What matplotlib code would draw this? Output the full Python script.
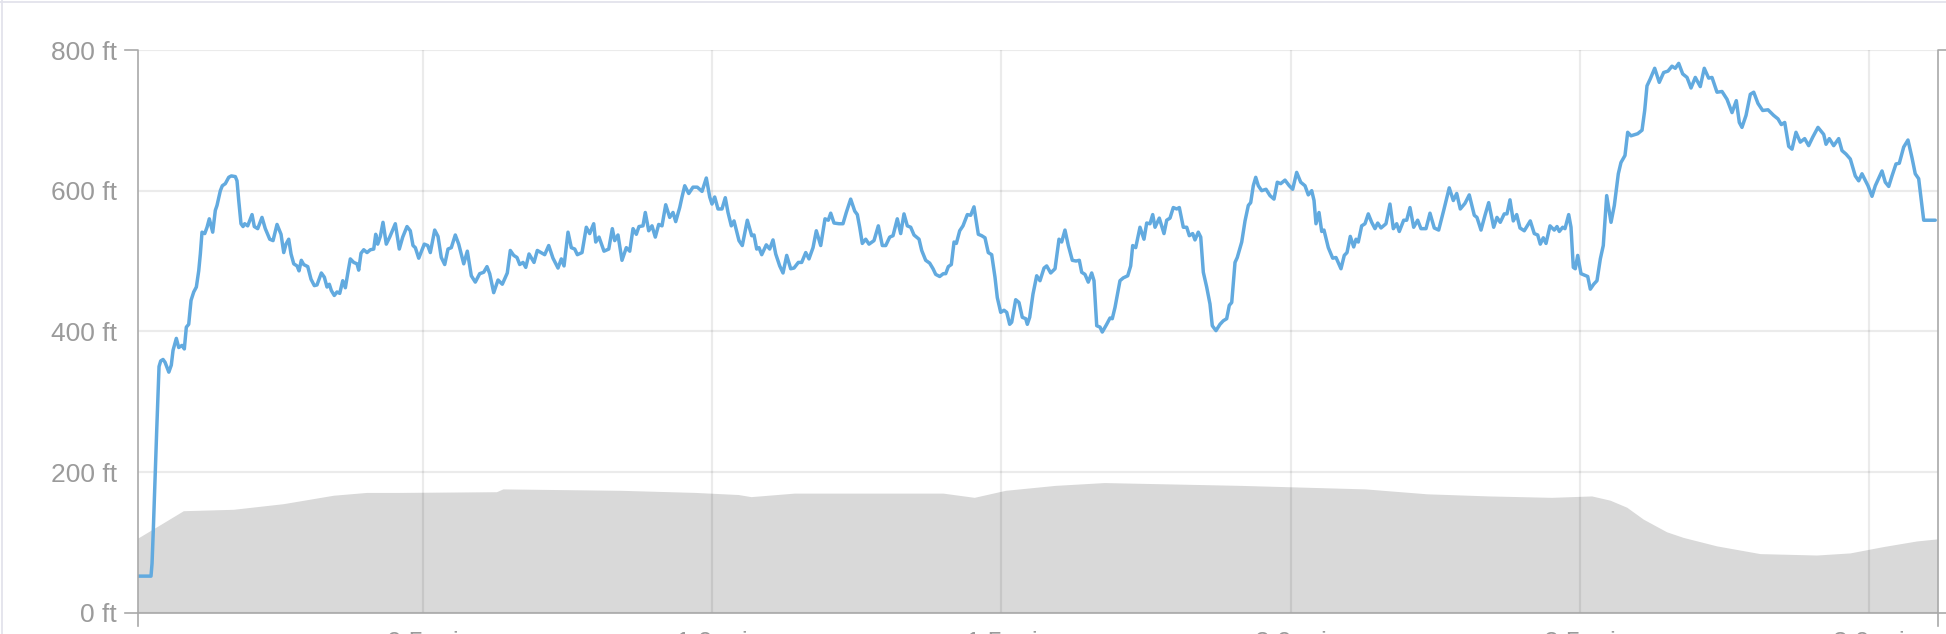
import matplotlib.pyplot as plt
from matplotlib.lines import Line2D

# elevation profile (miles, feet)
dist_mi = [0.0067, 0.0297, 0.0315, 0.0337, 0.0396, 0.0436, 0.0465, 0.0505, 0.0540, 0.0605, 0.0648, 0.0678,
           0.0735, 0.0776, 0.0833, 0.0873, 0.0908, 0.0949, 0.0989, 0.1036, 0.1081, 0.1122, 0.1150, 0.1179,
           0.1226, 0.1266, 0.1305, 0.1364, 0.1409, 0.1438, 0.1496, 0.1530, 0.1582, 0.1641, 0.1686, 0.1755,
           0.1784, 0.1814, 0.1853, 0.1888, 0.1917, 0.1969, 0.2044, 0.2083, 0.2142, 0.2216, 0.2273, 0.2350,
           0.2407, 0.2476, 0.2545, 0.2592, 0.2631, 0.2678, 0.2718, 0.2765, 0.2822, 0.2856, 0.2896, 0.2937,
           0.3007, 0.3064, 0.3121, 0.3167, 0.3242, 0.3294, 0.3340, 0.3380, 0.3415, 0.3466, 0.3513, 0.3560,
           0.3612, 0.3657, 0.3698, 0.3743, 0.3802, 0.3859, 0.3888, 0.3928, 0.3975, 0.4032, 0.4089, 0.4148,
           0.4182, 0.4217, 0.4262, 0.4308, 0.4365, 0.4424, 0.4521, 0.4590, 0.4649, 0.4723, 0.4780, 0.4827,
           0.4867, 0.4926, 0.4965, 0.5022, 0.5081, 0.5126, 0.5202, 0.5259,
           0.5316, 0.5375, 0.5432, 0.5489, 0.5558, 0.5617, 0.5704, 0.5766, 0.5835, 0.5904, 0.5980, 0.6049,
           0.6106, 0.6153, 0.6222, 0.6297, 0.6371, 0.6457, 0.6509, 0.6568, 0.6625, 0.6672, 0.6729, 0.6776,
           0.6833, 0.6919, 0.6976, 0.7104, 0.7173, 0.7247, 0.7334, 0.7391, 0.7438, 0.7507, 0.7564, 0.7623,
           0.7668, 0.7749, 0.7823, 0.7882, 0.7951, 0.7986, 0.8043, 0.8129, 0.8211, 0.8273, 0.8314, 0.8371,
           0.8440, 0.8515, 0.8574, 0.8631, 0.8688, 0.8734, 0.8803, 0.8843, 0.8902, 0.8959, 0.9016, 0.9075,
           0.9132, 0.9196, 0.9265, 0.9322, 0.9369, 0.9438, 0.9478, 0.9525, 0.9594, 0.9668, 0.9742, 0.9824,
           0.9898, 0.9957, 0.9996, 1.0043, 1.0100, 1.0169, 1.0226, 1.0273, 1.0330, 1.0377, 1.0463,
           1.0520, 1.0607, 1.0683, 1.0723, 1.0769, 1.0809, 1.0856, 1.0935, 1.0994, 1.1051, 1.1098, 1.1167,
           1.1224, 1.1288, 1.1357, 1.1414, 1.1489, 1.1547, 1.1617, 1.1673, 1.1743, 1.1800, 1.1876, 1.1950,
           1.2007, 1.2049, 1.2106, 1.2192, 1.2261, 1.2318, 1.2394, 1.2464, 1.2509, 1.2550, 1.2595, 1.2654,
           1.2711, 1.2797, 1.2872, 1.2941, 1.3000, 1.3069, 1.3126, 1.3200, 1.3259, 1.3316, 1.3373, 1.3432,
           1.3489, 1.3576, 1.3622, 1.3691, 1.3760, 1.3818, 1.3864, 1.3933, 1.3995, 1.4037, 1.4082, 1.4134,
           1.4181, 1.4221, 1.4279, 1.4336, 1.4411, 1.4469, 1.4526, 1.4601, 1.4659, 1.4716, 1.4773, 1.4832,
           1.4889, 1.4929, 1.4988, 1.5045, 1.5092, 1.5143, 1.5178, 1.5247, 1.5304, 1.5361, 1.5420, 1.5448,
           1.5489, 1.5546, 1.5610, 1.5667,
           1.5737, 1.5783, 1.5852, 1.5927, 1.5996, 1.6042, 1.6099, 1.6157, 1.6226, 1.6290, 1.6347, 1.6388,
           1.6445, 1.6502, 1.6561, 1.6601, 1.6648, 1.6705, 1.6744, 1.6820, 1.6878, 1.6917, 1.6964, 1.7050,
           1.7107, 1.7184, 1.7235, 1.7270, 1.7322, 1.7396, 1.7465, 1.7512, 1.7569, 1.7616, 1.7656, 1.7730,
           1.7811, 1.7858, 1.7915, 1.7972, 1.8031, 1.8076, 1.8145, 1.8204, 1.8249, 1.8307, 1.8347, 1.8404,
           1.8446, 1.8491, 1.8549, 1.8606, 1.8646, 1.8710, 1.8779, 1.8836, 1.8895, 1.8940, 1.8982, 1.9039,
           1.9078, 1.9155, 1.9212, 1.9269, 1.9310, 1.9355, 1.9397, 1.9442, 1.9500, 1.9575, 1.9644, 1.9713,
           1.9770, 1.9829, 1.9903, 1.9977, 2.0036, 2.0105, 2.0175, 2.0249, 2.0306, 2.0365, 2.0405, 2.0439,
           2.0491, 2.0538, 2.0577, 2.0652, 2.0728, 2.0785, 2.0871,
           2.0928, 2.0975, 2.1032, 2.1091, 2.1131, 2.1170, 2.1229, 2.1286, 2.1343, 2.1402, 2.1459, 2.1506,
           2.1563, 2.1649, 2.1718, 2.1776, 2.1834, 2.1879, 2.1955, 2.2007, 2.2064, 2.2128, 2.2197, 2.2254,
           2.2341, 2.2410, 2.2484, 2.2560, 2.2647, 2.2743, 2.2813, 2.2872, 2.2934, 2.3015, 2.3089, 2.3176,
           2.3222, 2.3292, 2.3361, 2.3425, 2.3511, 2.3568, 2.3625, 2.3694, 2.3741, 2.3793, 2.3850, 2.3909,
           2.3966, 2.4040, 2.4144, 2.4213, 2.4272, 2.4317, 2.4369, 2.4416, 2.4485, 2.4559, 2.4606, 2.4646,
           2.4704, 2.4744, 2.4808, 2.4848, 2.4888, 2.4922, 2.4964, 2.5021, 2.5137, 2.5182, 2.5240, 2.5297,
           2.5355, 2.5406, 2.5465, 2.5540, 2.5597, 2.5666, 2.5712, 2.5781, 2.5828, 2.5885, 2.6001, 2.6076,
           2.6122, 2.6162, 2.6219, 2.6295, 2.6374, 2.6450, 2.6525, 2.6594, 2.6651, 2.6710, 2.6779, 2.6854,
           2.6923, 2.6997, 2.7083, 2.7152, 2.7228, 2.7286, 2.7372, 2.7459, 2.7545, 2.7632, 2.7706, 2.7758,
           2.7804, 2.7874, 2.7948, 2.8007, 2.8081, 2.8162, 2.8254, 2.8352, 2.8427, 2.8484, 2.8543, 2.8612,
           2.8669, 2.8738, 2.8812, 2.8888, 2.8957, 2.9027, 2.9118, 2.9217, 2.9257, 2.9314, 2.9390, 2.9476,
           2.9533, 2.9603, 2.9677, 2.9763, 2.9822, 2.9879, 2.9983, 3.0052, 3.0109, 3.0225, 3.0282, 3.0341,
           3.0398, 3.0467, 3.0524, 3.0600, 3.0674, 3.0743, 3.0800, 3.0859, 3.0904, 3.0946, 3.1146]

elev_ft = [52, 52, 70, 118, 260, 350, 358, 360, 356, 342, 352, 373,
           390, 377, 380, 375, 406, 410, 444, 456, 463, 486, 510, 541,
           539, 548, 560, 541, 572, 579, 600, 607, 610, 619, 621, 620,
           614, 586, 553, 549, 553, 550, 566, 549, 546, 562, 546, 531,
           529, 552, 538, 512, 524, 531, 510, 496, 493, 486, 501, 495,
           492, 474, 465, 466, 483, 477, 463, 467, 458, 451, 456, 454,
           472, 462, 482, 503, 498, 496, 487, 511, 516, 512, 516, 517,
           538, 524, 535, 555, 524, 534, 553, 517, 534, 549, 543, 522,
           519, 504, 512, 524, 522, 512, 544, 535,
           505, 495, 517, 519, 537, 524, 496, 514, 479, 470, 482, 484,
           492, 482, 455, 473, 467, 483, 515, 508, 505, 495, 498, 491,
           510, 498, 515, 509, 522, 504, 490, 503, 493, 541, 519, 517,
           509, 512, 548, 539, 553, 527, 534, 514, 517, 546, 529, 537,
           501, 519, 514, 546, 538, 549, 550, 569, 543, 550, 534, 552,
           550, 580, 562, 569, 556, 576, 591, 607, 596, 605, 605, 599,
           618, 591, 581, 591, 574, 574, 590, 569, 550, 557, 529,
           522, 558, 536, 537, 517, 519, 509, 523, 517, 530, 510, 493,
           483, 508, 489, 490, 498, 498, 512, 503, 519, 543, 522, 560,
           558, 568, 554, 553, 553, 569, 588, 571, 566, 548, 525, 531,
           524, 529, 550, 522, 522, 534, 536, 560, 539, 567, 550, 548,
           537, 531, 515, 501, 497, 489, 481, 478, 482, 482, 492, 495,
           527, 525, 543, 550, 566, 565, 577, 538, 536, 533, 512, 509,
           477, 448, 427, 430, 427, 410, 413, 445, 441, 420, 418, 410,
           420, 453, 479, 472,
           490, 493, 483, 489, 531, 527, 544, 522, 501, 500, 501, 484,
           481, 470, 483, 472, 408, 406, 399, 410, 419, 418, 434, 472,
           476, 479, 493, 522, 519, 548, 531, 554, 553, 566, 548, 561,
           539, 558, 561, 576, 574, 576, 548, 548, 536, 539, 530, 541,
           534, 484, 463, 439, 408, 401, 410, 415, 418, 437, 441, 498,
           505, 527, 557, 579, 583, 607, 619, 607, 600, 602, 593, 588,
           612, 610, 615, 607, 602, 626, 612, 607, 594, 600, 586, 553,
           569, 542, 544, 519, 504, 505, 489,
           508, 512, 535, 520, 531, 527, 550, 553, 567, 555, 546, 554,
           547, 553, 581, 546, 553, 542, 558, 558, 576, 548, 558, 546,
           546, 568, 547, 544, 572, 604, 586, 596, 574, 582, 594, 565,
           562, 544, 565, 583, 548, 562, 555, 567, 567, 587, 557, 566,
           547, 543, 557, 539, 537, 524, 533, 525, 550, 544, 549, 542,
           548, 546, 566, 548, 491, 489, 508, 482, 478, 460, 467, 472,
           503, 522, 593, 555, 579, 624, 640, 650, 683, 678, 681, 686,
           714, 749, 759, 774, 754, 768, 770, 777, 774, 781, 766, 761,
           746, 761, 748, 774, 760, 761, 740, 741, 730, 711, 728, 697,
           690, 707, 737, 740, 724, 714, 715, 707, 702, 694, 697, 663,
           659, 683, 669, 674, 664, 676, 690, 680, 666, 674, 664, 674,
           657, 652, 645, 621, 614, 624, 607, 592, 607, 628, 612, 606,
           621, 638, 639, 662, 672, 647, 624, 617, 586, 558, 558]

# grey background profile (miles, feet)
ground_mi = [0.0067, 0.0453, 0.0856, 0.1720, 0.2585, 0.3450, 0.4027, 0.4602, 0.6270, 0.6380, 0.8416,
             0.9700, 1.0450, 1.0670, 1.1420, 1.3990, 1.4530, 1.5070, 1.5930, 1.6780, 1.9140, 2.1290,
             2.2360, 2.3430, 2.4510, 2.5206, 2.5522, 2.5811, 2.6098, 2.6502, 2.6790, 2.7367, 2.8116,
             2.9096, 2.9672, 3.0247, 3.0825, 3.1188]
ground_ft = [106, 125, 145, 147, 155, 167, 171, 171, 172, 176, 174,
             171, 168, 165, 170, 170, 164, 174, 181, 185, 181, 176,
             169, 166, 164, 166, 160, 150, 133, 115, 107, 95, 84,
             82, 85, 94, 102, 105]

x_ticks = [0.5, 1.0, 1.5, 2.0, 2.5, 3.0]
x_labels = ['0.5 mi', '1.0 mi', '1.5 mi', '2.0 mi', '2.5 mi', '3.0 mi']
y_ticks = [0, 200, 400, 600, 800]
y_labels = ['0 ft', '200 ft', '400 ft', '600 ft', '800 ft']

W, H = 1946, 634
x0, x1, y0, y1 = 137.7, 1937.7, 612.7, 50.0   # plot box in pixels, from top-left

fig = plt.figure(figsize=(W / 100, H / 100), dpi=100)
ax = fig.add_axes([x0 / W, 1 - y0 / H, (x1 - x0) / W, (y0 - y1) / H])

ax.fill_between(ground_mi, ground_ft, 0, color='#d9d9d9', lw=0, zorder=1)
ax.plot(dist_mi, elev_ft, color='#62aadf', lw=2.5, zorder=3,
        solid_joinstyle='round', solid_capstyle='round')

ax.set_xlim(0.0067, 3.1188)
ax.set_ylim(0, 800)
ax.set_xticks(x_ticks)
ax.set_xticklabels(x_labels)
ax.set_yticks(y_ticks)
ax.set_yticklabels(y_labels)
ax.tick_params(length=0, labelsize=19, labelcolor='#9b9b9b')
ax.tick_params(axis='y', pad=15)
ax.tick_params(axis='x', pad=13)
for t in ax.get_xticklabels() + ax.get_yticklabels():
    t.set_family('Liberation Sans')
ax.grid(True, color='black', alpha=0.08, lw=1.6)
for s in ax.spines.values():
    s.set_visible(False)


def px(xs, ys):
    return [x / W for x in xs], [1 - y / H for y in ys]


axis_col = '#a9a9a9'
paths = [
    ([125, x0, x0], [y1, y1, 626]),          # left axis with top outer tick
    ([125, x0], [y0, y0]),                   # left outer tick at 0
    ([x0, W], [y0, y0]),                     # bottom axis
    ([x1, x1, W], [626, y1, y1]),            # right axis
]
for xs, ys in paths:
    fx, fy = px(xs, ys)
    fig.add_artist(Line2D(fx, fy, color=axis_col, lw=1.2, transform=fig.transFigure))

# card border (top and left)
fx, fy = px([0, W], [2.3, 2.3])
fig.add_artist(Line2D(fx, fy, color='#e3e3ec', lw=1.3, transform=fig.transFigure))
fx, fy = px([1.8, 1.8], [0, H])
fig.add_artist(Line2D(fx, fy, color='#e3e3ec', lw=1.3, transform=fig.transFigure))

plt.savefig('out.png', dpi=100)
